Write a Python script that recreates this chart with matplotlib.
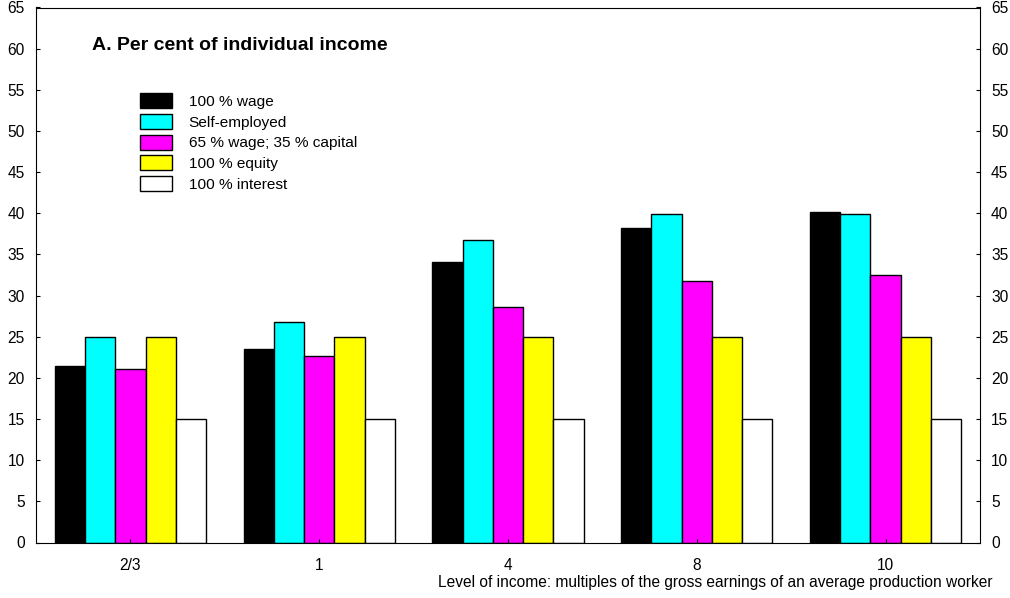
import numpy as np
import matplotlib.pyplot as plt

plt.rcParams['font.family'] = ['Liberation Sans', 'DejaVu Sans']

# income levels (multiples of APW earnings)
levels = ['2/3', '1', '4', '8', '10']
series_names = ['100 % wage', 'Self-employed', '65 % wage; 35 % capital',
                '100 % equity', '100 % interest']
wage = [21.4, 23.5, 34.1, 38.2, 40.1]
self_employed = [25.0, 26.8, 36.8, 39.9, 39.9]
mixed = [21.1, 22.6, 28.6, 31.8, 32.5]
equity = [25.0, 25.0, 25.0, 25.0, 25.0]
interest = [15.0, 15.0, 15.0, 15.0, 15.0]
colors = ['#000000', '#00ffff', '#ff00ff', '#ffff00', '#ffffff']

fig = plt.figure(figsize=(10.1, 5.98), dpi=100)
ax = fig.add_axes([36 / 1010, 1 - 542.5 / 598, 944 / 1010, 535 / 598])

x = np.arange(len(levels))
w = 0.16
all_series = [wage, self_employed, mixed, equity, interest]
for i, (vals, name, c) in enumerate(zip(all_series, series_names, colors)):
    ax.bar(x + (i - 2) * w, vals, w, color=c, edgecolor='black',
           linewidth=1.0, label=name)

ax.set_xlim(-0.5, len(levels) - 0.5)
ax.set_ylim(0, 65)
ax.set_yticks(range(0, 66, 5))
ax.set_xticks(x)
ax.set_xticklabels(levels)
ax.tick_params(axis='both', direction='in', length=3, labelsize=11.2)
ax.tick_params(axis='x', pad=11)
ax.tick_params(axis='y', right=True, labelright=True, pad=8)

fig.text(92 / 1010, 1 - 45 / 598, 'A. Per cent of individual income',
         fontsize=14, fontweight='bold', va='center', ha='left')
fig.text(992 / 1010, 1 - 583 / 598,
         'Level of income: multiples of the gross earnings of an average production worker',
         fontsize=11.2, ha='right', va='center')

ax.legend(loc='upper left', bbox_to_anchor=(140 / 1010, 1 - 93 / 598),
          bbox_transform=fig.transFigure, frameon=False, fontsize=11.1,
          borderpad=0, borderaxespad=0, handlelength=2.1, handleheight=1.12,
          labelspacing=0.33, handletextpad=1.05)

fig.savefig('out.png', dpi=100)
